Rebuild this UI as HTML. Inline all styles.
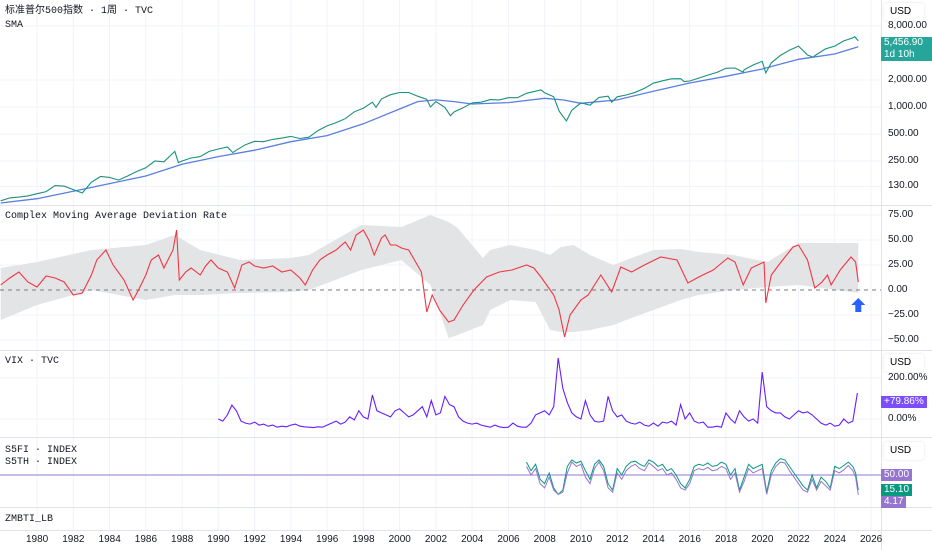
<!DOCTYPE html>
<html><head><meta charset="utf-8">
<style>
html,body{margin:0;padding:0;background:#fff;}
#wrap{position:relative;width:932px;height:550px;overflow:hidden;font-family:"Liberation Mono","Noto Sans CJK SC",monospace;}
svg{position:absolute;left:0;top:0;}
.lbl{position:absolute;font-size:10px;line-height:12px;color:#131722;white-space:nowrap;}
.ax{position:absolute;font-family:"Liberation Sans",sans-serif;font-size:10px;color:#131722;}
.tag{position:absolute;left:881px;color:#fff;font-family:"Liberation Sans",sans-serif;font-size:10px;padding:0 3px;line-height:12px;}
.usd{position:absolute;left:884px;width:40px;height:18px;border-radius:3px;background:#fff;box-shadow:0 0 2px #ddd;font-family:"Liberation Sans",sans-serif;font-size:10px;line-height:18px;padding-left:6px;box-sizing:border-box;}
</style></head><body>
<div id="wrap">
<svg id="svg" width="932" height="550"></svg>
<div class="lbl" style="left:5px;top:6px;">标准普尔500指数 · 1周 · TVC</div>
<div class="lbl" style="left:5px;top:20px;">SMA</div>
<div class="lbl" style="left:5px;top:211px;">Complex Moving Average Deviation Rate</div>
<div class="lbl" style="left:5px;top:356px;">VIX · TVC</div>
<div class="lbl" style="left:5px;top:445px;">S5FI · INDEX</div>
<div class="lbl" style="left:5px;top:457px;">S5TH · INDEX</div>
<div class="lbl" style="left:5px;top:514px;">ZMBTI_LB</div>
<div class="usd" style="top:3px;">USD</div>
<div class="usd" style="top:354px;">USD</div>
<div class="usd" style="top:442px;">USD</div>
<div class="tag" style="top:37px;background:#26a69a;width:45px;">5,456.90<br>1d 10h</div>
<div class="tag" style="top:396px;background:#7c4dff;">+79.86%</div>
<div class="tag" style="top:469px;background:#9575cd;">50.00</div>
<div class="tag" style="top:484px;background:#089981;">15.10</div>
<div class="tag" style="top:496px;background:#9575cd;">4.17</div>
</div>
<script>
const priceYears=[1978,1978.5,1979,1979.5,1980,1980.5,1981,1981.5,1982,1982.5,1983,1983.5,1984,1984.5,1985,1985.5,1986,1986.5,1987,1987.6,1987.8,1988,1988.5,1989,1989.5,1990,1990.5,1990.8,1991,1991.5,1992,1992.5,1993,1993.5,1994,1994.5,1995,1995.5,1996,1996.5,1997,1997.5,1998,1998.5,1998.7,1999,1999.5,2000,2000.5,2001,2001.5,2001.7,2002,2002.5,2002.8,2003,2003.5,2004,2004.5,2005,2005.5,2006,2006.5,2007,2007.5,2007.8,2008,2008.5,2008.8,2009.2,2009.5,2010,2010.5,2011,2011.5,2011.7,2012,2012.5,2013,2013.5,2014,2014.5,2015,2015.5,2015.7,2016,2016.5,2017,2017.5,2018,2018.5,2018.95,2019,2019.5,2020,2020.2,2020.5,2021,2021.5,2022,2022.5,2022.8,2023,2023.5,2024,2024.5,2025,2025.1,2025.3];
const priceValues=[90,97,99,102,108,114,133,131,120,110,145,168,164,153,170,191,210,250,245,320,240,250,270,280,320,340,358,310,330,380,415,410,435,450,470,445,460,545,615,670,740,885,970,1130,990,1230,1370,1450,1450,1320,1220,1000,1150,990,800,880,980,1110,1130,1210,1200,1270,1270,1420,1500,1550,1440,1300,900,700,920,1110,1050,1280,1320,1130,1300,1360,1460,1610,1840,1960,2060,2070,1920,1950,2100,2270,2430,2700,2720,2450,2600,2940,3230,2400,3100,3750,4300,4770,3800,3600,3850,4450,4770,5460,5900,6100,5457];
const smaYears=[1978,1980,1982,1984,1986,1988,1990,1992,1994,1996,1998,2000,2001,2002,2003,2004,2006,2008,2009,2010,2012,2014,2016,2018,2020,2022,2024,2025.3];
const smaValues=[85,95,115,140,170,230,280,330,410,480,650,950,1150,1200,1150,1080,1120,1250,1200,1100,1200,1500,1850,2200,2650,3400,3900,4700];
const devYears=[1978,1978.5,1979,1979.5,1980,1980.5,1981,1981.5,1982,1982.5,1983,1983.3,1983.8,1984.2,1984.8,1985.3,1985.6,1986,1986.3,1986.7,1987,1987.5,1987.7,1987.85,1988.2,1988.5,1989,1989.3,1989.6,1990,1990.5,1990.9,1991.3,1991.7,1992,1992.5,1993,1993.5,1994,1994.5,1994.8,1995.2,1995.6,1996,1996.5,1997,1997.3,1997.6,1998,1998.3,1998.6,1999,1999.2,1999.5,1999.8,2000.1,2000.5,2001.2,2001.5,2001.8,2002.2,2002.7,2003,2003.5,2004.1,2004.8,2005.5,2006.2,2007,2007.4,2007.8,2008.5,2008.8,2009.1,2009.4,2010,2010.4,2011.1,2011.7,2012.2,2012.8,2013.5,2014.4,2015.3,2015.9,2016.5,2017.3,2018.1,2018.5,2018.95,2019.4,2020.1,2020.2,2020.5,2021,2021.7,2022,2022.5,2022.9,2023.3,2023.6,2023.8,2024.3,2024.9,2025.15,2025.3];
const devValues=[5,12,18,8,3,14,12,8,-5,-3,15,30,40,25,10,-10,0,15,30,35,22,40,60,10,18,22,15,24,30,22,18,2,25,28,24,22,24,18,20,12,5,20,30,35,40,48,40,55,60,50,35,52,55,45,45,42,40,18,-22,-5,-20,-32,-30,-15,0,13,18,20,25,22,13,-5,-20,-47,-25,-10,-5,15,-2,23,18,25,33,30,7,13,20,32,28,5,22,28,-13,15,27,43,45,30,2,8,15,5,20,33,28,8];
const bandYears=[1978,1980,1983,1986,1987.6,1989,1991.2,1994,1995,1997.9,2000.1,2001.7,2002.7,2003.2,2004.6,2005,2006.1,2007.5,2008.3,2008.9,2009.6,2010.5,2011.8,2012.5,2014,2015.5,2016.5,2018.4,2020.3,2022,2025.3];
const bandUpper=[22,28,40,45,55,40,30,32,35,65,63,75,68,62,32,40,45,40,35,43,45,35,25,30,40,41,38,35,28,47,47];
const bandLower=[-30,-15,0,-10,-5,-5,-3,-2,0,20,30,5,-48,-45,-35,-20,-10,-12,-40,-42,-42,-40,-35,-30,-20,-10,-5,0,3,5,-3];
const vixStartYear=1990;
const vixValues=[0,-10,20,68,40,-10,-20,-25,-15,-30,-25,-35,-30,-40,-35,-38,-30,-25,-35,-38,-40,-42,-38,-40,-30,-20,-10,-25,-15,10,-5,40,10,0,117,40,30,20,10,40,50,30,10,20,40,60,10,90,20,30,110,70,60,10,-10,-20,-25,-20,-30,-35,-40,-30,-38,-42,-40,-20,-35,-40,-40,-20,20,30,40,20,60,298,150,80,30,10,0,90,20,-10,-15,-10,110,40,10,20,-10,-20,-25,-15,-30,-35,-20,-35,-15,-20,-10,-30,70,0,30,-10,-20,-15,-40,-40,-35,-40,30,0,-20,40,10,-10,0,-20,229,60,40,30,30,10,0,20,40,30,35,20,0,-20,-30,-20,-35,-30,0,-20,-10,127];
const breadthYears=[2007,2007.25,2007.5,2007.75,2008,2008.25,2008.5,2008.75,2009,2009.25,2009.5,2009.75,2010,2010.25,2010.5,2010.75,2011,2011.25,2011.5,2011.75,2012,2012.25,2012.5,2012.75,2013,2013.25,2013.5,2013.75,2014,2014.25,2014.5,2014.75,2015,2015.25,2015.5,2015.75,2016,2016.25,2016.5,2016.75,2017,2017.25,2017.5,2017.75,2018,2018.25,2018.5,2018.75,2019,2019.25,2019.5,2019.75,2020,2020.25,2020.5,2020.75,2021,2021.25,2021.5,2021.75,2022,2022.25,2022.5,2022.75,2023,2023.25,2023.5,2023.75,2024,2024.25,2024.5,2024.75,2025,2025.15,2025.3];
const s5fiValues=[80,60,75,40,30,55,20,5,15,70,85,78,82,60,40,75,85,70,30,15,65,50,70,80,82,75,70,85,80,70,75,60,65,50,30,20,40,70,75,72,78,70,72,80,75,50,65,15,45,75,65,70,75,10,60,78,88,85,70,55,40,25,15,50,20,45,35,20,70,65,72,80,70,55,15];
const s5thValues=[70,50,65,30,20,45,15,5,10,55,80,70,75,45,30,65,80,60,20,10,55,40,60,70,75,65,60,78,70,60,65,50,55,40,20,15,30,60,65,62,68,60,62,70,65,40,55,10,35,65,55,60,65,5,50,70,80,78,60,45,30,15,10,40,15,35,25,15,60,55,62,72,60,45,4];

const NS='http://www.w3.org/2000/svg';
const svg=document.getElementById('svg');
const PW=881;
const xOf=y=>37+(y-1980)*18.13;
const yPrice=p=>107-27*Math.log2(p/1000);
const yDev=v=>290-v;
const yVix=v=>419-v*0.205;
const yBr=v=>496.5-v*0.43;
function el(tag,attrs){const e=document.createElementNS(NS,tag);for(const k in attrs)e.setAttribute(k,attrs[k]);svg.appendChild(e);return e;}
function pts(xs,ys,fy){return xs.map((x,i)=>xOf(x).toFixed(1)+','+fy(ys[i]).toFixed(1)).join(' ');}

for(let yr=1980;yr<=2026;yr+=2){const g=el('line',{x1:xOf(yr),x2:xOf(yr),y1:0,y2:530,stroke:'#f0f3fa'});

}
[8000,2000,1000,500,250,130].forEach(v=>{const g=el('line',{x1:0,x2:PW,y1:yPrice(v),y2:yPrice(v),stroke:'#f0f3fa'});

});
[75,50,25,-25,-50].forEach(v=>{const g=el('line',{x1:0,x2:PW,y1:yDev(v),y2:yDev(v),stroke:'#f0f3fa'});

});
[200,0].forEach(v=>{const g=el('line',{x1:0,x2:PW,y1:yVix(v),y2:yVix(v),stroke:'#f0f3fa'});

});
[205,350,437,507,530].forEach(y=>{const s=el('line',{x1:0,x2:932,y1:y+0.5,y2:y+0.5,stroke:'#e0e3eb'});

});
const vs=el('line',{x1:PW+0.5,x2:PW+0.5,y1:0,y2:550,stroke:'#e0e3eb'});



const sma=el('polyline',{points:pts(smaYears,smaValues,yPrice),fill:'none',stroke:'#5b7fe0','stroke-width':1.3});


const pl=el('polyline',{points:pts(priceYears,priceValues,yPrice),fill:'none',stroke:'#089981','stroke-width':1.1});


const plr=el('polyline',{points:pts(priceYears,priceValues,yPrice),fill:'none',stroke:'#f23645','stroke-width':0.6,'stroke-dasharray':'1 5'});



const bandPts=bandYears.map((y,i)=>xOf(y).toFixed(1)+','+yDev(bandUpper[i]).toFixed(1)).concat(bandYears.map((y,i)=>xOf(y).toFixed(1)+','+yDev(bandLower[i]).toFixed(1)).reverse()).join(' ');
const band=el('polygon',{points:bandPts,fill:'#e3e4e6'});


const zl=el('line',{x1:0,x2:PW,y1:yDev(0),y2:yDev(0),stroke:'#787b86','stroke-dasharray':'4 4'});


const dl=el('polyline',{points:pts(devYears,devValues,yDev),fill:'none',stroke:'#f23645','stroke-width':1.1});


const ax=xOf(2025.3);
const arrow=el('polygon',{points:`${ax},298 ${ax+7},305 ${ax+3},305 ${ax+3},312 ${ax-3},312 ${ax-3},305 ${ax-7},305`,fill:'#2962ff'});



const vixPts=vixValues.map((v,i)=>xOf(vixStartYear+i*0.25).toFixed(1)+','+yVix(v).toFixed(1)).join(' ');
const vl=el('polyline',{points:vixPts,fill:'none',stroke:'#651fff','stroke-width':1.1});



const ml=el('line',{x1:0,x2:PW,y1:yBr(50),y2:yBr(50),stroke:'#9575cd'});


const fi=el('polyline',{points:pts(breadthYears,s5fiValues,yBr),fill:'none',stroke:'#089981','stroke-width':1});


const th=el('polyline',{points:pts(breadthYears,s5thValues,yBr),fill:'none',stroke:'#9575cd','stroke-width':1});



const wrap=document.getElementById('wrap');
function lab(txt,x,y,name){const d=document.createElement('div');d.className='ax';d.style.left=x+'px';d.style.top=y+'px';d.textContent=txt;


wrap.appendChild(d);}
const priceTicks=[8000,2000,1000,500,250,130];
const priceTickLabels=['8,000.00','2,000.00','1,000.00','500.00','250.00','130.00'];
priceTicks.forEach((v,i)=>lab(priceTickLabels[i],888,yPrice(v)-6,'price-tick'));
const devTicks=[75,50,25,0,-25,-50];
const devTickLabels=['75.00','50.00','25.00','0.00','\u221225.00','\u221250.00'];
devTicks.forEach((v,i)=>lab(devTickLabels[i],888,yDev(v)-6,'deviation-tick'));
const vixTicks=[200,0];
const vixTickLabels=['200.00%','0.00%'];
vixTicks.forEach((v,i)=>lab(vixTickLabels[i],888,yVix(v)-6,'vix-tick'));
const yearTicks=[1980,1982,1984,1986,1988,1990,1992,1994,1996,1998,2000,2002,2004,2006,2008,2010,2012,2014,2016,2018,2020,2022,2024,2026];
yearTicks.forEach(y=>lab(String(y),xOf(y)-11,534,'year-tick'));
</script>
</body></html>
